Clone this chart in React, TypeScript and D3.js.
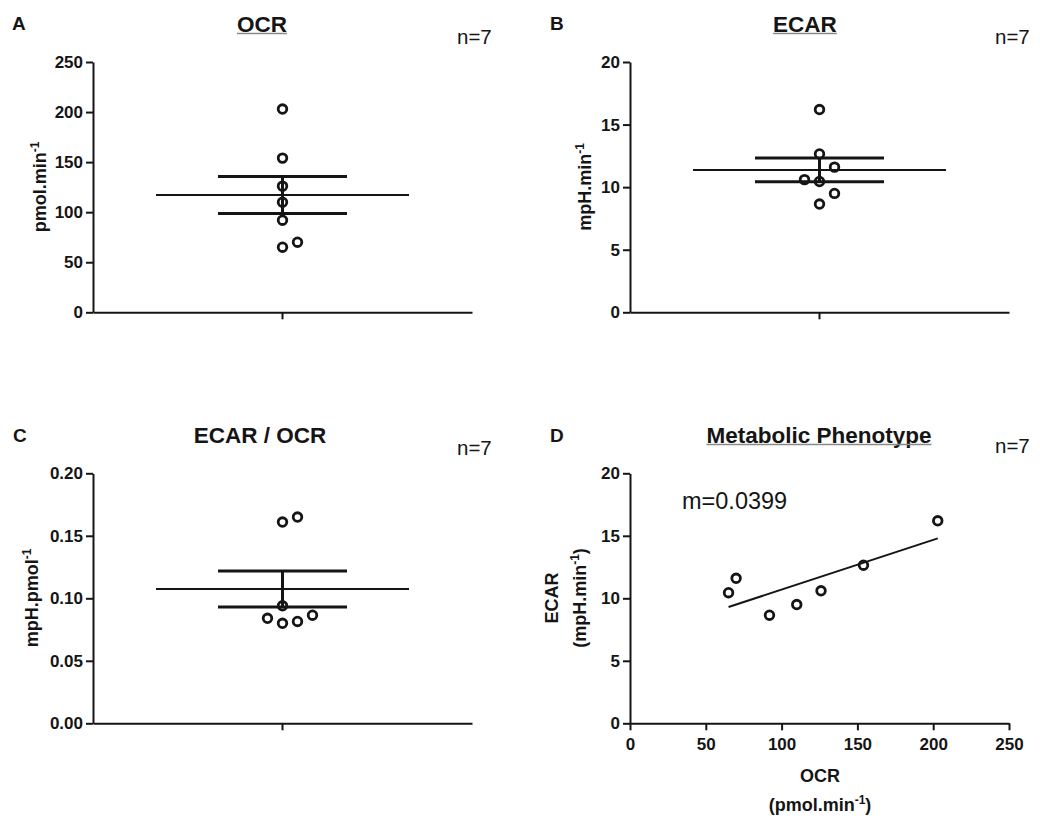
import React, { useEffect, useRef } from 'react';
import * as d3 from 'd3';

// values (one entry per sample, same order in every array)
const ocrValues = [65, 70, 92, 110, 126, 154, 203];
const ecarValues = [10.45, 11.6, 8.65, 9.5, 10.6, 12.65, 16.2];
const ratioValues = [0.161, 0.165, 0.094, 0.0865, 0.084, 0.0815, 0.08];

const ocrTicks = [0, 50, 100, 150, 200, 250];
const ecarTicks = [0, 5, 10, 15, 20];
const ratioTicks = [0, 0.05, 0.1, 0.15, 0.2];

const panelLetters = ['A', 'B', 'C', 'D'];
const panelTitles = ['OCR', 'ECAR', 'ECAR / OCR', 'Metabolic Phenotype'];
const underlined = [true, true, false, true];
const sampleLabel = 'n=7';
const slopeLabel = 'm=0.0399';

const FONT = '"Liberation Sans", Arial, Helvetica, sans-serif';
const INK = '#151515';

// plot frames in page pixels
const frames = [
    { x0: 93, x1: 472, y0: 62, y1: 312.3 },
    { x0: 630, x1: 1009, y0: 62, y1: 312.3 },
    { x0: 93, x1: 472, y0: 473.3, y1: 723.3 },
    { x0: 630, x1: 1009, y0: 473.3, y1: 723.3 },
];
const letterPos = [[12, 30], [550, 30], [13, 442], [550, 442]];
const titlePos = [[262, 32], [805, 32], [260, 443], [819, 443]];
const nPos = [[457, 43.5], [995, 43.5], [457, 455], [995, 453]];

// spread points sideways when they would overlap (like a column scatter)
const dodge = (vals, y, step = 15, minDist = 15) => {
    const order = d3.range(vals.length).sort((a, b) => vals[a] - vals[b]);
    const placed = [];
    const offsets = new Array(vals.length).fill(0);
    order.forEach(i => {
        const py = y(vals[i]);
        for (let k = 0; k < 20; k++) {
            const off = k === 0 ? 0 : (k % 2 === 1 ? step * Math.ceil(k / 2) : -step * (k / 2));
            if (placed.every(p => Math.hypot(p.off - off, p.y - py) >= minDist)) {
                offsets[i] = off;
                placed.push({ off, y: py });
                break;
            }
        }
    });
    return offsets;
};

const styleAxis = (g) => {
    g.select('.domain').attr('stroke', INK).attr('stroke-width', 2);
    g.selectAll('.tick line').attr('stroke', INK).attr('stroke-width', 2);
    g.selectAll('.tick text')
        .attr('fill', INK)
        .style('font-family', FONT)
        .style('font-size', '17px')
        .style('font-weight', 'bold');
};

const App = () => {
    const chartRef = useRef(null);

    useEffect(() => {
        const svg = d3.select(chartRef.current);
        svg.selectAll('*').remove();

        const yScales = [
            d3.scaleLinear().domain([0, 250]).range([frames[0].y1, frames[0].y0]),
            d3.scaleLinear().domain([0, 20]).range([frames[1].y1, frames[1].y0]),
            d3.scaleLinear().domain([0, 0.2]).range([frames[2].y1, frames[2].y0]),
            d3.scaleLinear().domain([0, 20]).range([frames[3].y1, frames[3].y0]),
        ];
        const yTicks = [ocrTicks, ecarTicks, ratioTicks, ecarTicks];
        const yFormats = [d3.format('d'), d3.format('d'), d3.format('.2f'), d3.format('d')];

        // headings
        panelLetters.forEach((l, i) => {
            svg.append('text')
                .attr('x', letterPos[i][0]).attr('y', letterPos[i][1])
                .attr('fill', INK)
                .style('font-family', FONT).style('font-size', '19px').style('font-weight', 'bold')
                .text(l);

            const t = svg.append('text')
                .attr('x', titlePos[i][0]).attr('y', titlePos[i][1])
                .attr('text-anchor', 'middle')
                .attr('fill', INK)
                .style('font-family', FONT).style('font-size', '22.5px').style('font-weight', 'bold')
                .text(panelTitles[i]);
            if (underlined[i]) {
                const w = t.node().getComputedTextLength();
                svg.append('line')
                    .attr('x1', titlePos[i][0] - w / 2).attr('x2', titlePos[i][0] + w / 2)
                    .attr('y1', titlePos[i][1] + 1.5).attr('y2', titlePos[i][1] + 1.5)
                    .attr('stroke', '#8a8a8a').attr('stroke-width', 1.5);
            }

            svg.append('text')
                .attr('x', nPos[i][0]).attr('y', nPos[i][1])
                .attr('fill', INK)
                .style('font-family', FONT).style('font-size', '20.5px')
                .text(sampleLabel);
        });

        // y axes
        frames.forEach((f, i) => {
            svg.append('g')
                .attr('transform', `translate(${f.x0},0)`)
                .call(d3.axisLeft(yScales[i]).tickValues(yTicks[i]).tickFormat(yFormats[i])
                    .tickSize(7).tickSizeOuter(0).tickPadding(3))
                .call(styleAxis);
        });

        // column scatter panels A, B, C
        const columnData = [ocrValues, ecarValues, ratioValues];
        const columnNames = ['OCR', 'ECAR', 'ECAR/OCR'];
        columnData.forEach((vals, i) => {
            const f = frames[i];
            const y = yScales[i];
            const x = d3.scaleBand().domain([columnNames[i]]).range([f.x0, f.x1]);
            svg.append('g')
                .attr('transform', `translate(0,${f.y1})`)
                .call(d3.axisBottom(x).tickSize(7).tickSizeOuter(0).tickFormat(() => ''))
                .call(styleAxis);

            const cx = x(columnNames[i]) + x.bandwidth() / 2;
            const offs = dodge(vals, y);
            const m = d3.mean(vals);
            const sem = d3.deviation(vals) / Math.sqrt(vals.length);

            const g = svg.append('g');
            g.selectAll('circle')
                .data(vals)
                .enter()
                .append('circle')
                .attr('cx', (d, j) => cx + offs[j])
                .attr('cy', d => y(d))
                .attr('r', 4.3)
                .attr('fill', 'none')
                .attr('stroke', INK)
                .attr('stroke-width', 2.8);

            g.append('line')
                .attr('x1', cx - 126.5).attr('x2', cx + 126.5)
                .attr('y1', y(m)).attr('y2', y(m))
                .attr('stroke', INK).attr('stroke-width', 2);
            [m - sem, m + sem].forEach(v => {
                g.append('line')
                    .attr('x1', cx - 64.5).attr('x2', cx + 64.5)
                    .attr('y1', y(v)).attr('y2', y(v))
                    .attr('stroke', INK).attr('stroke-width', 3);
            });
            g.append('line')
                .attr('x1', cx).attr('x2', cx)
                .attr('y1', y(m - sem)).attr('y2', y(m + sem))
                .attr('stroke', INK).attr('stroke-width', 3);
        });

        // panel D: ECAR vs OCR with linear fit
        const fD = frames[3];
        const xD = d3.scaleLinear().domain([0, 250]).range([fD.x0, fD.x1]);
        const yD = yScales[3];
        svg.append('g')
            .attr('transform', `translate(0,${fD.y1})`)
            .call(d3.axisBottom(xD).tickValues(ocrTicks).tickFormat(d3.format('d'))
                .tickSize(7).tickSizeOuter(0).tickPadding(8))
            .call(styleAxis);

        const mx = d3.mean(ocrValues);
        const my = d3.mean(ecarValues);
        const sxy = d3.sum(ocrValues, (v, j) => (v - mx) * (ecarValues[j] - my));
        const sxx = d3.sum(ocrValues, v => (v - mx) * (v - mx));
        const slope = sxy / sxx;
        const fit = v => my + slope * (v - mx);

        svg.append('path')
            .attr('d', d3.line().x(d => xD(d)).y(d => yD(fit(d)))(d3.extent(ocrValues)))
            .attr('fill', 'none')
            .attr('stroke', INK)
            .attr('stroke-width', 2);

        svg.append('g').selectAll('circle')
            .data(ocrValues)
            .enter()
            .append('circle')
            .attr('cx', d => xD(d))
            .attr('cy', (d, j) => yD(ecarValues[j]))
            .attr('r', 4.3)
            .attr('fill', 'none')
            .attr('stroke', INK)
            .attr('stroke-width', 2.8);

        svg.append('text')
            .attr('x', 682).attr('y', 509)
            .attr('fill', INK)
            .style('font-family', FONT).style('font-size', '23.5px')
            .text(slopeLabel);

        // axis titles; parts are [text, isSuperscript]
        const axisTitle = (x, y, rotate, parts) => {
            const t = svg.append('text')
                .attr('transform', `translate(${x},${y})${rotate ? ' rotate(-90)' : ''}`)
                .attr('text-anchor', 'middle')
                .attr('fill', INK)
                .style('font-family', FONT).style('font-size', '18px').style('font-weight', 'bold');
            let raised = false;
            parts.forEach(([s, sup]) => {
                const sp = t.append('tspan').text(s);
                if (sup) {
                    sp.attr('dy', -7).style('font-size', '12px');
                    raised = true;
                } else if (raised) {
                    sp.attr('dy', 7);
                    raised = false;
                }
            });
        };

        axisTitle(46, 187, true, [['pmol.min', false], ['-1', true]]);
        axisTitle(591, 187, true, [['mpH.min', false], ['-1', true]]);
        axisTitle(38, 598, true, [['mpH.pmol', false], ['-1', true]]);
        axisTitle(558, 598, true, [['ECAR', false]]);
        axisTitle(586, 598, true, [['(mpH.min', false], ['-1', true], [')', false]]);
        axisTitle(820, 781.5, false, [['OCR', false]]);
        axisTitle(820, 811, false, [['(pmol.min', false], ['-1', true], [')', false]]);
    }, []);

    return (
        <svg
            ref={chartRef}
            width={1040}
            height={821}
            style={{ position: 'absolute', left: 0, top: 0, background: '#fff' }}
        />
    );
};

export default App;
